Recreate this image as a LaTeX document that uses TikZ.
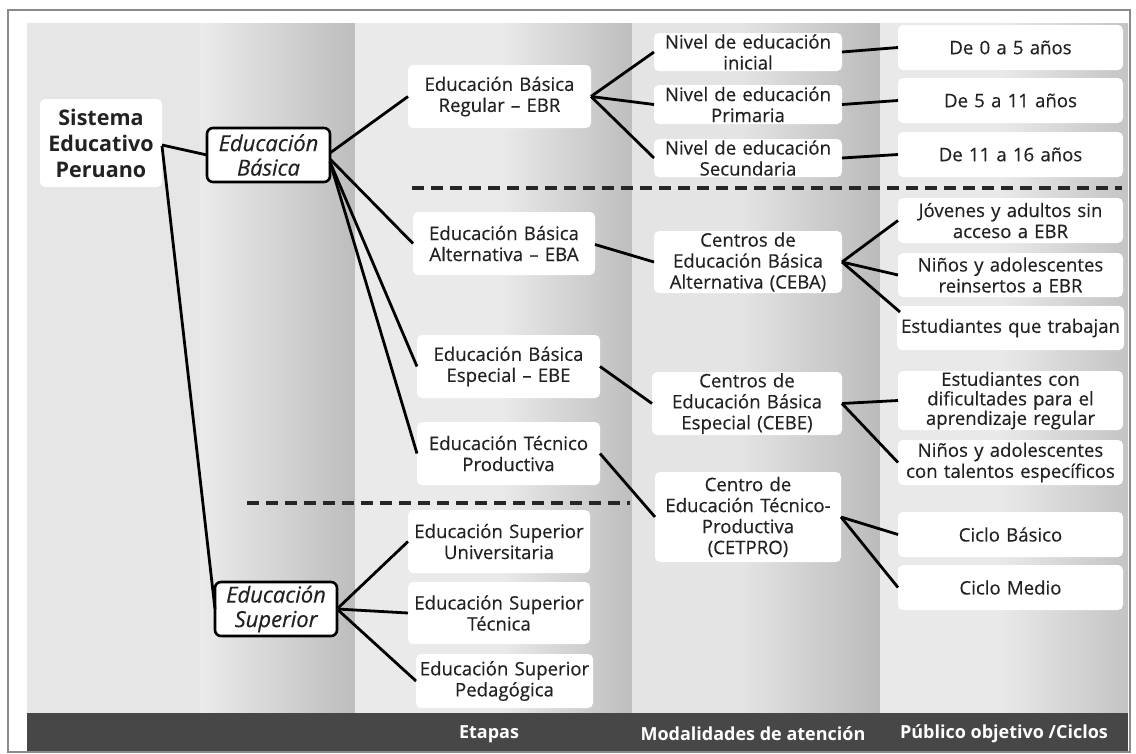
\documentclass[tikz,border=0pt]{standalone}
\usepackage{fontspec}
\setmainfont{Open Sans}
\newcommand\myfs{\fontsize{18.6}{21}\selectfont\addfontfeature{FakeBold=0.35}}
\newcommand\myfi{\fontsize{22}{24.5}\selectfont\itshape\addfontfeature{FakeBold=0.35}}
\newcommand\myft{\fontsize{21.5}{26}\selectfont\bfseries}
\newcommand\myfb{\fontsize{18}{20}\selectfont\bfseries}
\definecolor{txt}{HTML}{222222}
\definecolor{cA}{HTML}{E6E6E6}
\definecolor{cB}{HTML}{EBEBEB}
\definecolor{cC}{HTML}{BDBDBD}
\definecolor{cD}{HTML}{EAEAEA}
\definecolor{cE}{HTML}{BEBEBE}
\definecolor{cF}{HTML}{E4E4E4}
\definecolor{cG}{HTML}{BBBBBB}
\definecolor{cH}{HTML}{E9E9E9}
\definecolor{cI}{HTML}{C4C4C4}
\definecolor{barc}{HTML}{474747}
\definecolor{dashc}{HTML}{262626}
\definecolor{framec}{HTML}{8A8A8A}
\begin{document}
\begin{tikzpicture}[x=1pt,y=-1pt,
  bx/.style 2 args={fill=white, rounded corners=5pt, align=center, inner sep=0pt, outer sep=0pt, text width=#1pt, minimum height=#2pt, font=\myfs, text=txt},
  ibx/.style 2 args={fill=white, draw=black, line width=2.6pt, rounded corners=6pt, align=center, inner sep=0pt, outer sep=0pt, text width=#1pt, minimum height=#2pt, font=\myfi, text=txt},
  conn/.style={line width=2.8pt, black},
  dsh/.style={line width=3.4pt, draw=dashc, dash pattern=on 12pt off 7pt},
  lab/.style={text=white, font=\myfb, inner sep=0pt}]
\useasboundingbox (0,0) rectangle (1136,753);
\fill[white] (0,0) rectangle (1136,753);
% background columns
\fill[cA] (27,23) rectangle (200,713);
\shade[left color=cB, right color=cC] (200,23) rectangle (355,713);
\fill[cD] (355,23) rectangle (500,713);
\shade[left color=cD, right color=cE] (500,23) rectangle (632,713);
\fill[cF] (632,23) rectangle (740,713);
\shade[left color=cF, right color=cG] (740,23) rectangle (880,713);
\fill[cH] (880,23) rectangle (1000,713);
\shade[left color=cH, right color=cI] (1000,23) rectangle (1128,713);
% bottom bar
\fill[barc] (27,713) rectangle (1128,751);
\draw[framec, line width=1.2pt] (8,10) rectangle (1130,752);

% dashed separators
\coordinate (d1a) at (412,188);
\coordinate (d1b) at (1122,188);
\coordinate (d2a) at (247,503);
\coordinate (d2b) at (630,503);
\draw[dsh] (d1a) -- (d1b);
\draw[dsh] (d2a) -- (d2b);

% nodes
\node[bx={122}{88}, font=\myft] (sis) at (101,143) {Sistema\\Educativo\\Peruano};
\node[ibx={123}{54}] (eb) at (268.5,155) {Educación\\Básica};
\node[ibx={122}{54}] (es) at (276,609) {Educación\\Superior};

\node[bx={183}{63}] (ebr) at (499.5,96.5) {Educación Básica\\Regular – EBR};
\node[bx={188}{38}] (ni) at (748,52) {Nivel de educación\\inicial};
\node[bx={188}{39}] (np) at (748,104.5) {Nivel de educación\\Primaria};
\node[bx={188}{38}] (ns) at (748,158) {Nivel de educación\\Secundaria};
\node[bx={225}{45}] (d0) at (1010.5,47.5) {De 0 a 5 años};
\node[bx={225}{45}] (d5) at (1010.5,100.5) {De 5 a 11 años};
\node[bx={225}{45}] (d11) at (1010.5,154.5) {De 11 a 16 años};

\node[bx={182}{63}] (eba) at (504,243.5) {Educación Básica\\Alternativa – EBA};
\node[bx={188}{62}] (ceba) at (748,262) {Centros de\\Educación Básica\\Alternativa (CEBA)};
\node[bx={225}{45}] (jov) at (1010.5,220.5) {Jóvenes y adultos sin\\acceso a EBR};
\node[bx={225}{44}] (nre) at (1010.5,275) {Niños y adolescentes\\reinsertos a EBR};
\node[bx={227}{44}] (etr) at (1010.5,328) {Estudiantes que trabajan};

\node[bx={183}{63}] (ebe) at (508.5,366.5) {Educación Básica\\Especial – EBE};
\node[bx={190}{63}] (cebe) at (747,403.5) {Centros de\\Educación Básica\\Especial (CEBE)};
\node[bx={225}{59}, font=\fontsize{18.6}{19.5}\selectfont\addfontfeature{FakeBold=0.35}] (dif) at (1010.5,400.5) {Estudiantes con\\dificultades para el\\aprendizaje regular};
\node[bx={225}{45}] (tal) at (1010.5,462.5) {Niños y adolescentes\\con talentos específicos};

\node[bx={183}{63}] (etp) at (508.5,453.5) {Educación Técnico\\Productiva};
\node[bx={186}{90}] (cet) at (748,517) {Centro de\\Educación Técnico-\\Productiva\\(CETPRO)};
\node[bx={225}{45}] (cb) at (1010.5,534.5) {Ciclo Básico};
\node[bx={225}{45}] (cm) at (1010.5,587.5) {Ciclo Medio};

\node[bx={182}{63}] (univ) at (499,541.5) {Educación Superior\\Universitaria};
\node[bx={182}{62}] (tec) at (499,613) {Educación Superior\\Técnica};
\node[bx={177}{54}] (ped) at (504.5,681) {Educación Superior\\Pedagógica};

% bar labels
\node[lab] (l1) at (489,734) {Etapas};
\node[lab] (l2) at (753,734) {Modalidades de atención};
\node[lab] (l3) at (1004,734) {Público objetivo /Ciclos};

% connectors
\draw[conn] ([yshift=-2pt]sis.east) -- (eb.west);
\draw[conn] ([yshift=-3pt]sis.east) -- (es.west);
\draw[conn] ([yshift=2pt]eb.east) -- (ebr.west);
\draw[conn] ([yshift=-4pt]eb.east) -- (eba.west);
\draw[conn] ([yshift=-7pt]eb.east) -- (ebe.west);
\draw[conn] ([yshift=-7pt]eb.east) -- (etp.west);
\draw[conn] (ebr.east) -- (ni.west);
\draw[conn] (ebr.east) -- (np.west);
\draw[conn] (ebr.east) -- (ns.west);
\draw[conn] (ni.east) -- (d0.west);
\draw[conn] (np.east) -- (d5.west);
\draw[conn] (ns.east) -- (d11.west);
\draw[conn] ([yshift=-1pt]eba.east) -- (ceba.west);
\draw[conn] (ceba.east) -- (jov.west);
\draw[conn] (ceba.east) -- (nre.west);
\draw[conn] (ceba.east) -- ([shift={(3pt,-6pt)}]etr.north west);
\draw[conn] (ebe.east) -- (cebe.west);
\draw[conn] (cebe.east) -- (dif.west);
\draw[conn] (cebe.east) -- (tal.west);
\draw[conn] (etp.east) -- (cet.west);
\draw[conn] (cet.east) -- (cb.west);
\draw[conn] (cet.east) -- (cm.west);
\draw[conn] (es.east) -- (univ.west);
\draw[conn] (es.east) -- (tec.west);
\draw[conn] (es.east) -- (ped.west);
\end{tikzpicture}
\end{document}
